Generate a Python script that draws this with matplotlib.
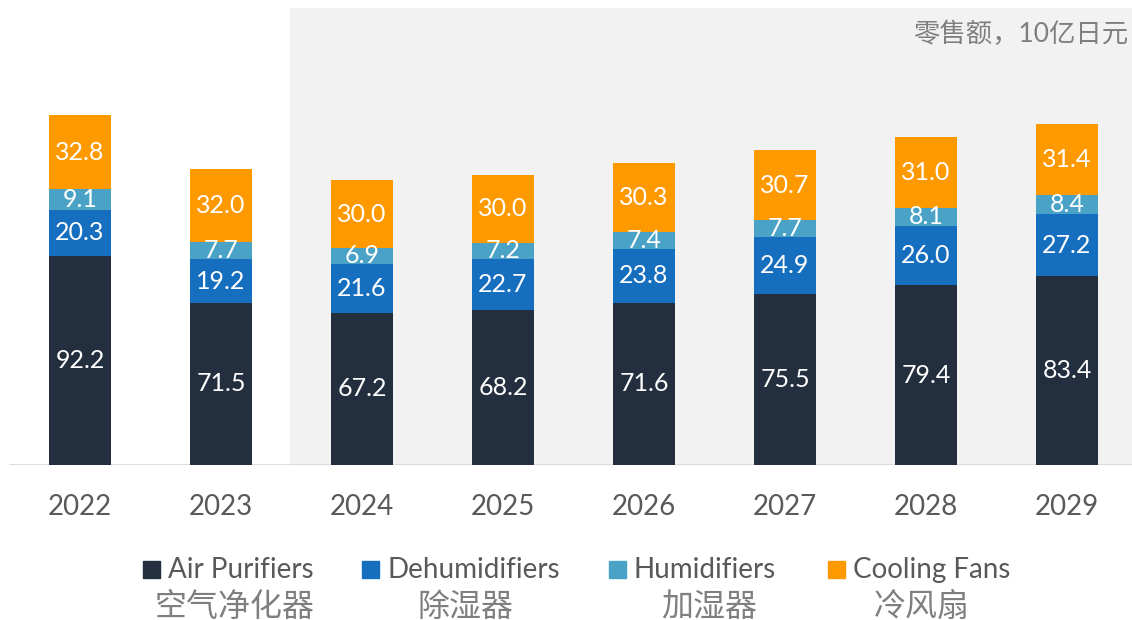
import matplotlib
matplotlib.use("Agg")
import matplotlib.pyplot as plt
from matplotlib.patches import Rectangle

plt.rcParams['font.family'] = ['Lato', 'Noto Sans CJK SC', 'DejaVu Sans']

years = ["2022", "2023", "2024", "2025", "2026", "2027", "2028", "2029"]
air_purifiers = [92.2, 71.5, 67.2, 68.2, 71.6, 75.5, 79.4, 83.4]
dehumidifiers = [20.3, 19.2, 21.6, 22.7, 23.8, 24.9, 26.0, 27.2]
humidifiers = [9.1, 7.7, 6.9, 7.2, 7.4, 7.7, 8.1, 8.4]
cooling_fans = [32.8, 32.0, 30.0, 30.0, 30.3, 30.7, 31.0, 31.4]

series = [
    ("Air Purifiers", "空气净化器", air_purifiers, "#232f3f"),
    ("Dehumidifiers", "除湿器", dehumidifiers, "#156ebe"),
    ("Humidifiers", "加湿器", humidifiers, "#4aa3c7"),
    ("Cooling Fans", "冷风扇", cooling_fans, "#ff9900"),
]

W, H = 1132, 620
fig = plt.figure(figsize=(W / 100, H / 100), dpi=100)
ax = fig.add_axes([0, (H - 465) / H, 1, 465 / H])

px_per_unit = 350 / 154.4
x_step = 141
ax.set_xlim(-80 / x_step, (W - 80) / x_step)
ax.set_ylim(0, 465 / px_per_unit)

# shaded forecast region
ax.axvspan((290 - 80) / x_step, (W - 80) / x_step, ymin=0, ymax=(465 - 8) / 465,
           color="#f2f2f2", zorder=0, lw=0)

x = list(range(len(years)))
bottom = [0.0] * len(years)
for name, cn, vals, col in series:
    ax.bar(x, vals, 0.44, bottom=bottom, color=col, zorder=2, lw=0)
    for i, v in enumerate(vals):
        ax.text(i, bottom[i] + v / 2, f"{v:.1f}", ha="center", va="center",
                color="white", fontsize=18, zorder=3)
    bottom = [b + v for b, v in zip(bottom, vals)]

ax.axhline(0, xmin=10 / W, xmax=1, color="#d9d9d9", lw=2, zorder=1)
for s in ax.spines.values():
    s.set_visible(False)
ax.set_xticks(x)
ax.set_xticklabels(years, fontsize=20, color="#595959")
ax.tick_params(axis="x", length=0, pad=21)
ax.set_yticks([])

fig.text(1128 / W, 1 - 34 / H, "零售额，10亿日元", ha="right", va="center",
         fontsize=19, color="#7f7f7f")

# legend
sq_x = [143, 362, 609, 828]
cn_x = [235, 466, 709, 922]
for (name, cn, vals, col), sx, cx in zip(series, sq_x, cn_x):
    fig.patches.append(Rectangle((sx / W, 1 - 578 / H), 17 / W, 17 / H,
                                 transform=fig.transFigure, color=col))
    fig.text((sx + 25) / W, 1 - 570 / H, name, ha="left", va="center",
             fontsize=20, color="#595959")
    fig.text(cx / W, 1 - 607 / H, cn, ha="center", va="center",
             fontsize=23, color="#7f7f7f")

fig.savefig("out.png", dpi=100)
